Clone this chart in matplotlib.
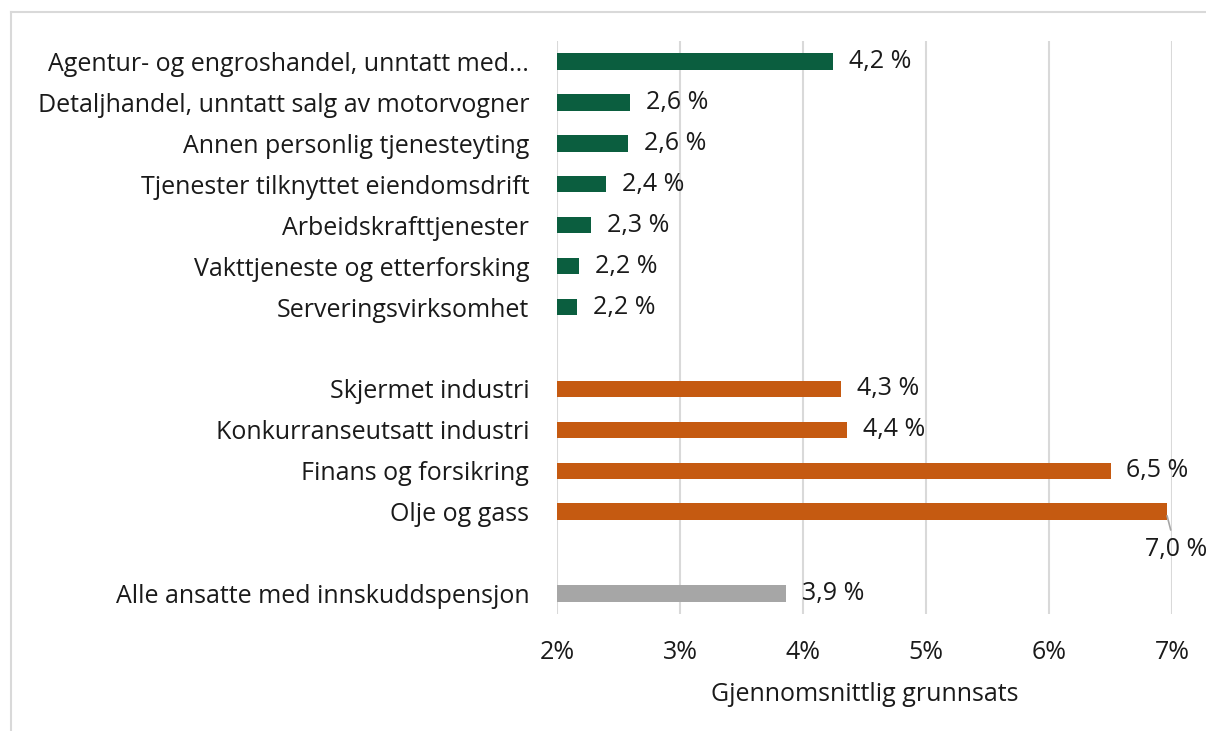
import matplotlib
matplotlib.use("Agg")
import matplotlib.pyplot as plt
from matplotlib.lines import Line2D
import numpy as np

plt.rcParams['font.family'] = ['Open Sans', 'DejaVu Sans']

green_cats = ["Agentur- og engroshandel, unntatt med...",
              "Detaljhandel, unntatt salg av motorvogner",
              "Annen personlig tjenesteyting",
              "Tjenester tilknyttet eiendomsdrift",
              "Arbeidskrafttjenester",
              "Vakttjeneste og etterforsking",
              "Serveringsvirksomhet"]
green_vals = [4.24, 2.59, 2.58, 2.40, 2.28, 2.18, 2.16]

orange_cats = ["Skjermet industri", "Konkurranseutsatt industri",
               "Finans og forsikring", "Olje og gass"]
orange_vals = [4.31, 4.36, 6.50, 6.96]

gray_cats = ["Alle ansatte med innskuddspensjon"]
gray_vals = [3.86]

xticks = [2, 3, 4, 5, 6, 7]
xticklabels = ["2%", "3%", "4%", "5%", "6%", "7%"]
xlabel = "Gjennomsnittlig grunnsats"

GREEN = "#0B5E3F"
ORANGE = "#C55A11"
GRAY = "#A6A6A6"
TXT = "#1A1A1A"
FS = 18

fig = plt.figure(figsize=(12.06, 7.31), dpi=100)
ax = fig.add_axes([557/1206, 1-614/731, (1172-557)/1206, (614-41)/731])

groups = [(green_cats, green_vals, GREEN), (orange_cats, orange_vals, ORANGE),
          (gray_cats, gray_vals, GRAY)]
pos = 0
ypos, labels = [], []
for cats, vals, col in groups:
    for c, v in zip(cats, vals):
        ax.barh(pos, v - 2, left=2, height=0.4, color=col, zorder=3)
        txt = f"{v:.1f}".replace(".", ",") + " %"
        if c == "Olje og gass":
            ax.annotate(txt, xy=(v, pos + 0.1), xytext=(v + 0.07, pos + 0.92),
                        fontsize=FS, ha='center', va='center', color=TXT,
                        zorder=4,
                        arrowprops=dict(arrowstyle='-', color='#A6A6A6', lw=1.2,
                                        shrinkA=3, shrinkB=0))
        else:
            ax.text(v + 0.13, pos, txt, fontsize=FS, va='center', ha='left',
                    color=TXT)
        ypos.append(pos)
        labels.append(c)
        pos += 1
    pos += 1

ax.set_ylim(pos - 1.5, -0.5)
ax.set_xlim(2, 7)
ax.set_yticks(ypos)
ax.set_yticklabels(labels, fontsize=FS, color=TXT)
ax.set_xticks(xticks)
ax.set_xticklabels(xticklabels, fontsize=FS, color=TXT)
ax.tick_params(axis='both', length=0)
ax.tick_params(axis='y', pad=20)
ax.tick_params(axis='x', pad=19)
ax.set_xlabel(xlabel, fontsize=FS, color=TXT, labelpad=12)
ax.grid(axis='x', color='#D9D9D9', lw=1.5, zorder=0)
for s in ax.spines.values():
    s.set_visible(False)

# chart border
fig.add_artist(Line2D([11/1206, 11/1206], [0, 1-12/731], transform=fig.transFigure,
                      color='#D9D9D9', lw=1.5))
fig.add_artist(Line2D([11/1206, 1], [1-12/731, 1-12/731], transform=fig.transFigure,
                      color='#D9D9D9', lw=1.5))

fig.savefig("out.png", dpi=100)
